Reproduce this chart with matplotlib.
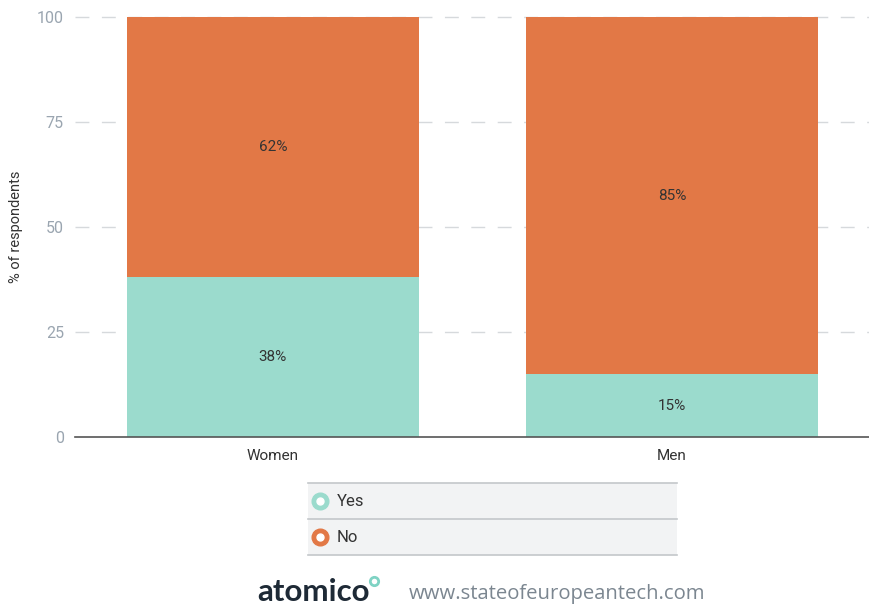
import matplotlib
matplotlib.use("Agg")
import matplotlib.pyplot as plt
from matplotlib.patches import Rectangle
from matplotlib.lines import Line2D

categories = ["Women", "Men"]
yes_values = [38, 15]
no_values = [62, 85]
series_names = ["Yes", "No"]
y_ticks = [0, 25, 50, 75, 100]

YES_COLOR = "#9bdbcd"
NO_COLOR = "#e27846"
TEXT_DARK = "#333333"
TICK_GRAY = "#9aa5b0"

plt.rcParams["font.family"] = ["Roboto", "DejaVu Sans"]

W, H = 869, 606
fig = plt.figure(figsize=(W / 100, H / 100), dpi=100)
fig.patch.set_facecolor("white")

def fx(px):
    return px / W

def fy(py):
    return 1 - py / H

ax = fig.add_axes([fx(75), fy(437), 1 - fx(75), fy(17) - fy(437)])
x = list(range(len(categories)))
bw = 0.73
ax.bar(x, yes_values, width=bw, color=YES_COLOR, zorder=2)
ax.bar(x, no_values, width=bw, bottom=yes_values, color=NO_COLOR, zorder=2)

for i in x:
    ax.text(i, yes_values[i] / 2, f"{yes_values[i]}%", ha="center", va="center",
            fontsize=11, color=TEXT_DARK, zorder=3)
    ax.text(i, yes_values[i] + no_values[i] / 2, f"{no_values[i]}%", ha="center",
            va="center", fontsize=11, color=TEXT_DARK, zorder=3)

ax.set_xlim(-0.496, 1.494)
ax.set_ylim(0, 100)
ax.set_yticks(y_ticks)
ax.set_yticklabels([str(t) for t in y_ticks], color=TICK_GRAY, fontsize=11.5)
ax.set_xticks(x)
ax.set_xticklabels(categories, color=TEXT_DARK, fontsize=11)
ax.tick_params(axis="both", length=0)
ax.tick_params(axis="y", pad=8)
ax.tick_params(axis="x", pad=9)
for yv in y_ticks[1:]:
    ax.axhline(yv, color="#d6d9dc", lw=1, dashes=(10, 9), zorder=1, clip_on=False)
for s in ["top", "right", "left"]:
    ax.spines[s].set_visible(False)
ax.spines["bottom"].set_color("#555555")
ax.spines["bottom"].set_linewidth(1.2)
ax.set_ylabel("% of respondents", color=TEXT_DARK, fontsize=10.5, labelpad=10)
ax.set_facecolor("none")

# legend panel
rows = [(483, 519), (519, 555)]
colors = [YES_COLOR, NO_COLOR]
for (top, bot), name, col in zip(rows, series_names, colors):
    fig.patches.append(Rectangle((fx(308), fy(bot)), fx(677) - fx(308), fy(top) - fy(bot),
                                 transform=fig.transFigure, facecolor="#f2f3f4",
                                 edgecolor="none"))
    cy = (top + bot) / 2
    fig.lines.append(Line2D([fx(320)], [fy(cy)], marker="o", markersize=12,
                            markerfacecolor=col, markeredgecolor=col,
                            transform=fig.transFigure))
    fig.lines.append(Line2D([fx(320)], [fy(cy)], marker="o", markersize=5,
                            markerfacecolor="white", markeredgecolor="white",
                            transform=fig.transFigure))
    fig.text(fx(337), fy(cy), name, ha="left", va="center", fontsize=12,
             color=TEXT_DARK)
for yl in [483, 519, 555]:
    fig.lines.append(Line2D([fx(308), fx(677)], [fy(yl), fy(yl)], color="#c4c7ca",
                            lw=1.2, transform=fig.transFigure))

# footer
logo = fig.text(fx(257), fy(592), "atomico", ha="left", va="center", fontsize=22.5,
                fontweight="bold", color="#1e2a36", family=["Lato", "DejaVu Sans"])
fig.canvas.draw()
bb = logo.get_window_extent()
fig.lines.append(Line2D([(bb.x1 + 4) / W], [fy(581)], marker="o", markersize=6,
                        markerfacecolor="white", markeredgecolor="#7fd3c4",
                        markeredgewidth=2, transform=fig.transFigure))
fig.text(fx(409), fy(594), "www.stateofeuropeantech.com", ha="left", va="center",
         fontsize=14.6, color="#7b8690", family=["Open Sans", "DejaVu Sans"])

fig.savefig("out.png", dpi=100, facecolor="white")
